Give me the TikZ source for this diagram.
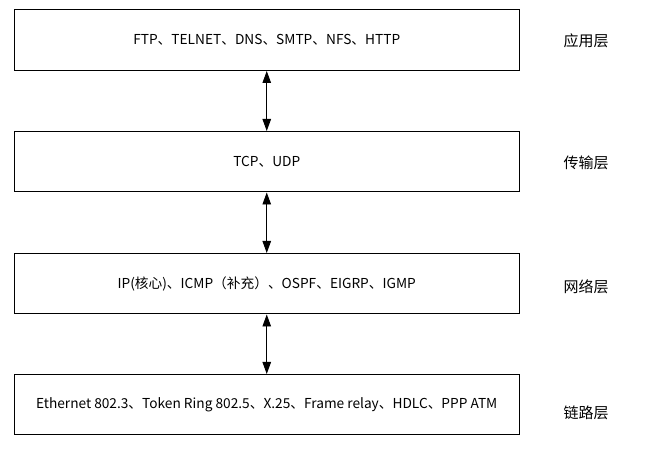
\documentclass[tikz,border=0pt]{standalone}
\usepackage{fontspec}
\setmainfont{Noto Sans CJK SC}
\usetikzlibrary{arrows.meta}
\begin{document}
\begin{tikzpicture}[x=1pt,y=1pt,
  layerbox/.style={draw=black, line width=1pt, minimum width=504.5pt, minimum height=60.5pt, inner sep=0pt, font=\fontsize{13.7}{15}\selectfont},
  layerlabel/.style={font=\fontsize{15}{17}\selectfont, inner sep=0pt},
  biarrow/.style={line width=0.9pt, {Triangle[length=12pt,width=8.5pt]}-{Triangle[length=12pt,width=8.5pt]}}]
\useasboundingbox (0,0) rectangle (645,454);
\node[layerbox] (app) at (266.75,413.75) {FTP、TELNET、DNS、SMTP、NFS、HTTP};
\node[layerbox] (trans) at (266.75,292.25) {TCP、UDP};
\node[layerbox] (net) at (266.75,170.25) {IP(核心)、ICMP（补充）、OSPF、EIGRP、IGMP};
\node[layerbox] (link) at (266.75,49.25) {Ethernet 802.3、Token Ring 802.5、X.25、Frame relay、HDLC、PPP ATM};
\node[layerlabel] (appl) at (586,413) {应用层};
\node[layerlabel] (transl) at (586,291.3) {传输层};
\node[layerlabel] (netl) at (586,167.3) {网络层};
\node[layerlabel] (linkl) at (586,41) {链路层};
\draw[biarrow] (app.south) -- (trans.north);
\draw[biarrow] (trans.south) -- (net.north);
\draw[biarrow] (net.south) -- (link.north);
\end{tikzpicture}
\end{document}
